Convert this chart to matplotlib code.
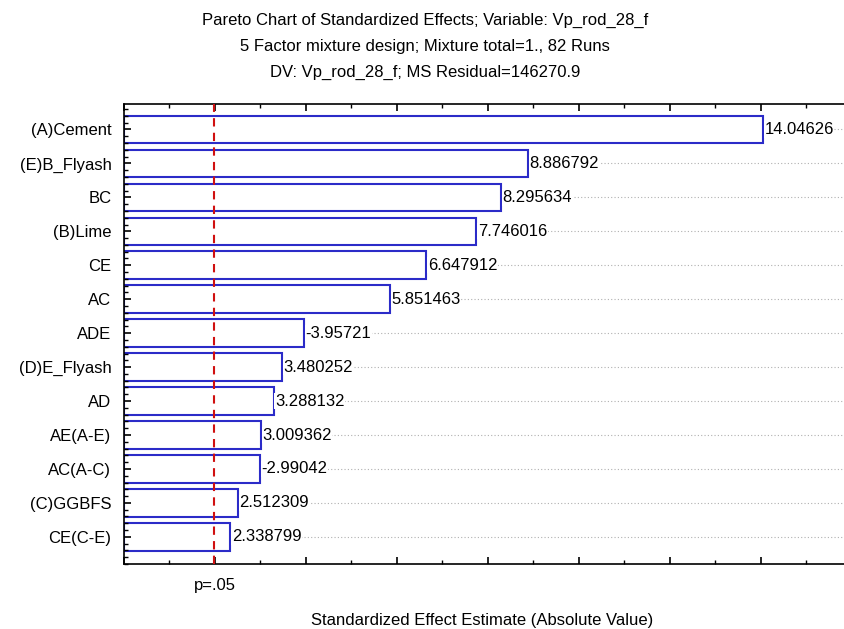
import numpy as np
from matplotlib import pyplot as plt
from matplotlib.ticker import MultipleLocator
from matplotlib import transforms

effects = ["(A)Cement", "(E)B_Flyash", "BC", "(B)Lime", "CE", "AC", "ADE",
           "(D)E_Flyash", "AD", "AE(A-E)", "AC(A-C)", "(C)GGBFS", "CE(C-E)"]
estimates = [14.04626, 8.886792, 8.295634, 7.746016, 6.647912, 5.851463, -3.95721,
             3.480252, 3.288132, 3.009362, -2.99042, 2.512309, 2.338799]
labels = ["14.04626", "8.886792", "8.295634", "7.746016", "6.647912", "5.851463", "-3.95721",
          "3.480252", "3.288132", "3.009362", "-2.99042", "2.512309", "2.338799"]
p_crit = 1.99

plt.rcParams['font.family'] = ['Liberation Sans', 'DejaVu Sans']
FS = 12

def main():
  fig = plt.figure(figsize=(8.45, 6.29), dpi=100)
  ax = fig.add_axes([0.1467, 0.1033, 0.8533, 0.7314])
  ax.set_axisbelow(False)

  ypos = np.arange(len(effects))
  absval = np.abs(estimates)

  # dotted grid lines behind bars
  for y in ypos:
    ax.axhline(y, color="#b0b0b0", lw=0.8, ls=(0, (1, 2)), zorder=0)

  ax.barh(ypos, absval, height=0.81, color="white", edgecolor="#2b2bc8", lw=1.5, zorder=2)
  for y, v, s in zip(ypos, absval, labels):
    ax.text(v + 0.03, y, s, va="center", ha="left", fontsize=FS, zorder=3,
            bbox=dict(facecolor="white", edgecolor="none", pad=0.5))

  ax.axvline(p_crit, color="#d01010", lw=1.5, ls=(0, (4, 3)), zorder=4)

  ax.set_xlim(0, 15.85)
  ax.set_ylim(12.8, -0.75)
  ax.set_yticks(ypos)
  ax.set_yticklabels(effects, fontsize=FS)
  ax.yaxis.set_minor_locator(MultipleLocator(0.2))
  ax.xaxis.set_major_locator(MultipleLocator(2))
  ax.xaxis.set_minor_locator(MultipleLocator(1))
  ax.tick_params(axis="x", which="both", direction="in", top=True, bottom=True, labelbottom=False)
  ax.tick_params(axis="y", which="both", direction="in", left=True, right=False, pad=9)
  ax.tick_params(which="major", length=5, width=1.2)
  ax.tick_params(which="minor", length=3, width=1)
  for side in ["left", "bottom", "top"]:
    ax.spines[side].set_linewidth(1.2)
  ax.spines["right"].set_visible(False)

  trans = transforms.blended_transform_factory(ax.transData, ax.transAxes)
  ax.text(p_crit, -0.046, "p=.05", transform=trans, ha="center", va="center", fontsize=FS)

  fig.text(0.57, 1 - 621 / 629, "Standardized Effect Estimate (Absolute Value)",
           ha="center", va="center", fontsize=FS)
  fig.text(0.503, 1 - 20 / 629, "Pareto Chart of Standardized Effects; Variable: Vp_rod_28_f",
           ha="center", va="center", fontsize=FS)
  fig.text(0.503, 1 - 46 / 629, "5 Factor mixture design; Mixture total=1., 82 Runs",
           ha="center", va="center", fontsize=FS)
  fig.text(0.503, 1 - 72 / 629, "DV: Vp_rod_28_f; MS Residual=146270.9",
           ha="center", va="center", fontsize=FS)

  fig.savefig("out.png", dpi=100)
  plt.close()

main()
